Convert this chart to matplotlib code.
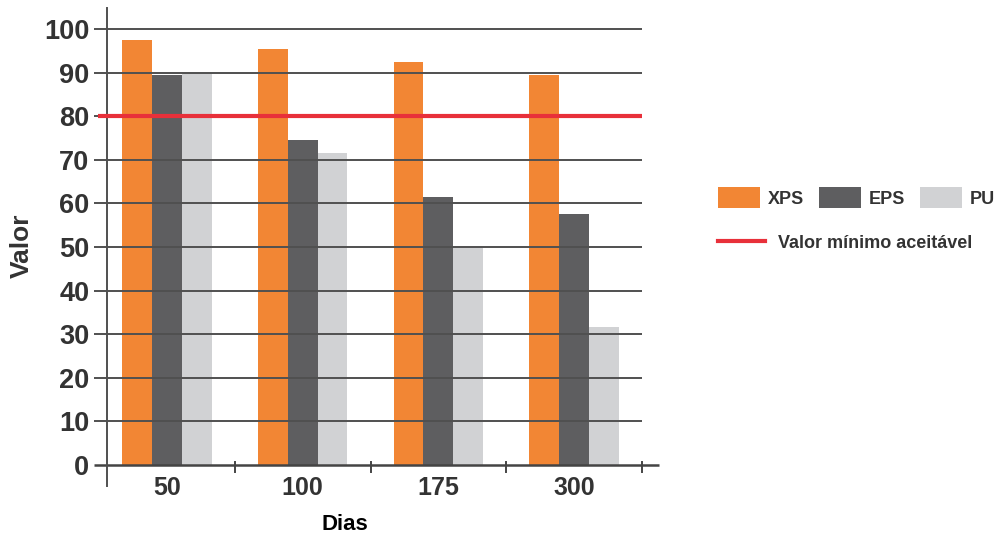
import matplotlib
matplotlib.use("Agg")
import matplotlib.pyplot as plt
from matplotlib.patches import Patch
from matplotlib.lines import Line2D
import numpy as np

plt.rcParams['font.family'] = ['Liberation Sans', 'DejaVu Sans']

categories = ["50", "100", "175", "300"]
series_names = ["XPS", "EPS", "PU"]
xps = [97.5, 95.4, 92.5, 89.4]
eps = [89.4, 74.5, 61.5, 57.6]
pu = [89.7, 71.6, 49.8, 31.7]
min_value = 80
min_label = "Valor mínimo aceitável"
y_ticks = [0, 10, 20, 30, 40, 50, 60, 70, 80, 90, 100]
x_label = "Dias"
y_label = "Valor"

colors = ["#F28634", "#5E5E60", "#D1D2D4"]
red = "#E8303A"
grid_c = "#505050"
text_c = "#333333"

W, H = 999, 538
fig = plt.figure(figsize=(W/100, H/100), dpi=100)
ax = fig.add_axes([99/W, (H-465)/H, (642-99)/W, (465-29)/H])
ax.set_xlim(-0.5, 3.5)
ax.set_ylim(0, 100)
for s in ax.spines.values():
    s.set_visible(False)

x = np.arange(len(categories))
bw = 0.22
for i, vals in enumerate([xps, eps, pu]):
    ax.bar(x + (i-1)*bw, vals, width=bw, color=colors[i], label=series_names[i], zorder=2)

# gridlines over bars
for yv in y_ticks[1:]:
    ax.plot([-0.537, 3.5], [yv, yv], color=grid_c, lw=1.4, zorder=3, clip_on=False, solid_capstyle='butt')
# bottom axis
ax.plot([-0.537, 3.625], [0, 0], color="#444444", lw=1.8, zorder=4, clip_on=False, solid_capstyle='butt')
# left axis line
ax.plot([-0.441, -0.441], [-4.8, 104.8], color=grid_c, lw=1.4, zorder=4, clip_on=False)
# category separator ticks
for xv in [0.5, 1.5, 2.5, 3.5]:
    ax.plot([xv, xv], [0.7, -1.6], color="#444444", lw=1.4, zorder=4, clip_on=False)

# minimum value line
ax.plot([-0.505, 3.5], [min_value, min_value], color=red, lw=3.0, zorder=5, clip_on=False,
        solid_capstyle='butt', label=min_label)

ax.set_yticks(y_ticks)
ax.set_yticklabels([str(v) for v in y_ticks], fontsize=19.5, fontweight='bold', color=text_c)
ax.tick_params(axis='y', length=0, pad=7)
ax.set_xticks([])
for xi, lab in zip(x, categories):
    ax.text(xi, -5.3, lab, ha='center', va='center', fontsize=18, fontweight='bold', color=text_c, clip_on=False)

fig.text(345/W, 1 - 525/H, x_label, ha='center', va='center', fontsize=16, fontweight='bold', color='black')
fig.text(22/W, 1 - 246/H, y_label, ha='center', va='center', rotation=90, fontsize=19, fontweight='bold', color=text_c)

handles = [Patch(facecolor=c, label=n) for c, n in zip(colors, series_names)]
leg1 = fig.legend(handles=handles, loc='upper left', bbox_to_anchor=(718/W, 1 - 187/H),
                  ncol=3, frameon=False, fontsize=13, prop={'weight': 'bold', 'size': 13},
                  handlelength=2.33, handleheight=1.44, handletextpad=0.45, columnspacing=0.8,
                  borderpad=0, borderaxespad=0)
for t in leg1.get_texts():
    t.set_color(text_c)
leg2 = fig.legend(handles=[Line2D([0], [0], color=red, lw=3.0)], labels=[min_label],
                  loc='center left', bbox_to_anchor=(718/W, 1 - 243/H), frameon=False,
                  prop={'weight': 'bold', 'size': 13}, handlelength=2.6, handletextpad=0.7,
                  borderpad=0, borderaxespad=0)
for t in leg2.get_texts():
    t.set_color(text_c)

fig.savefig("out.png", dpi=100)
